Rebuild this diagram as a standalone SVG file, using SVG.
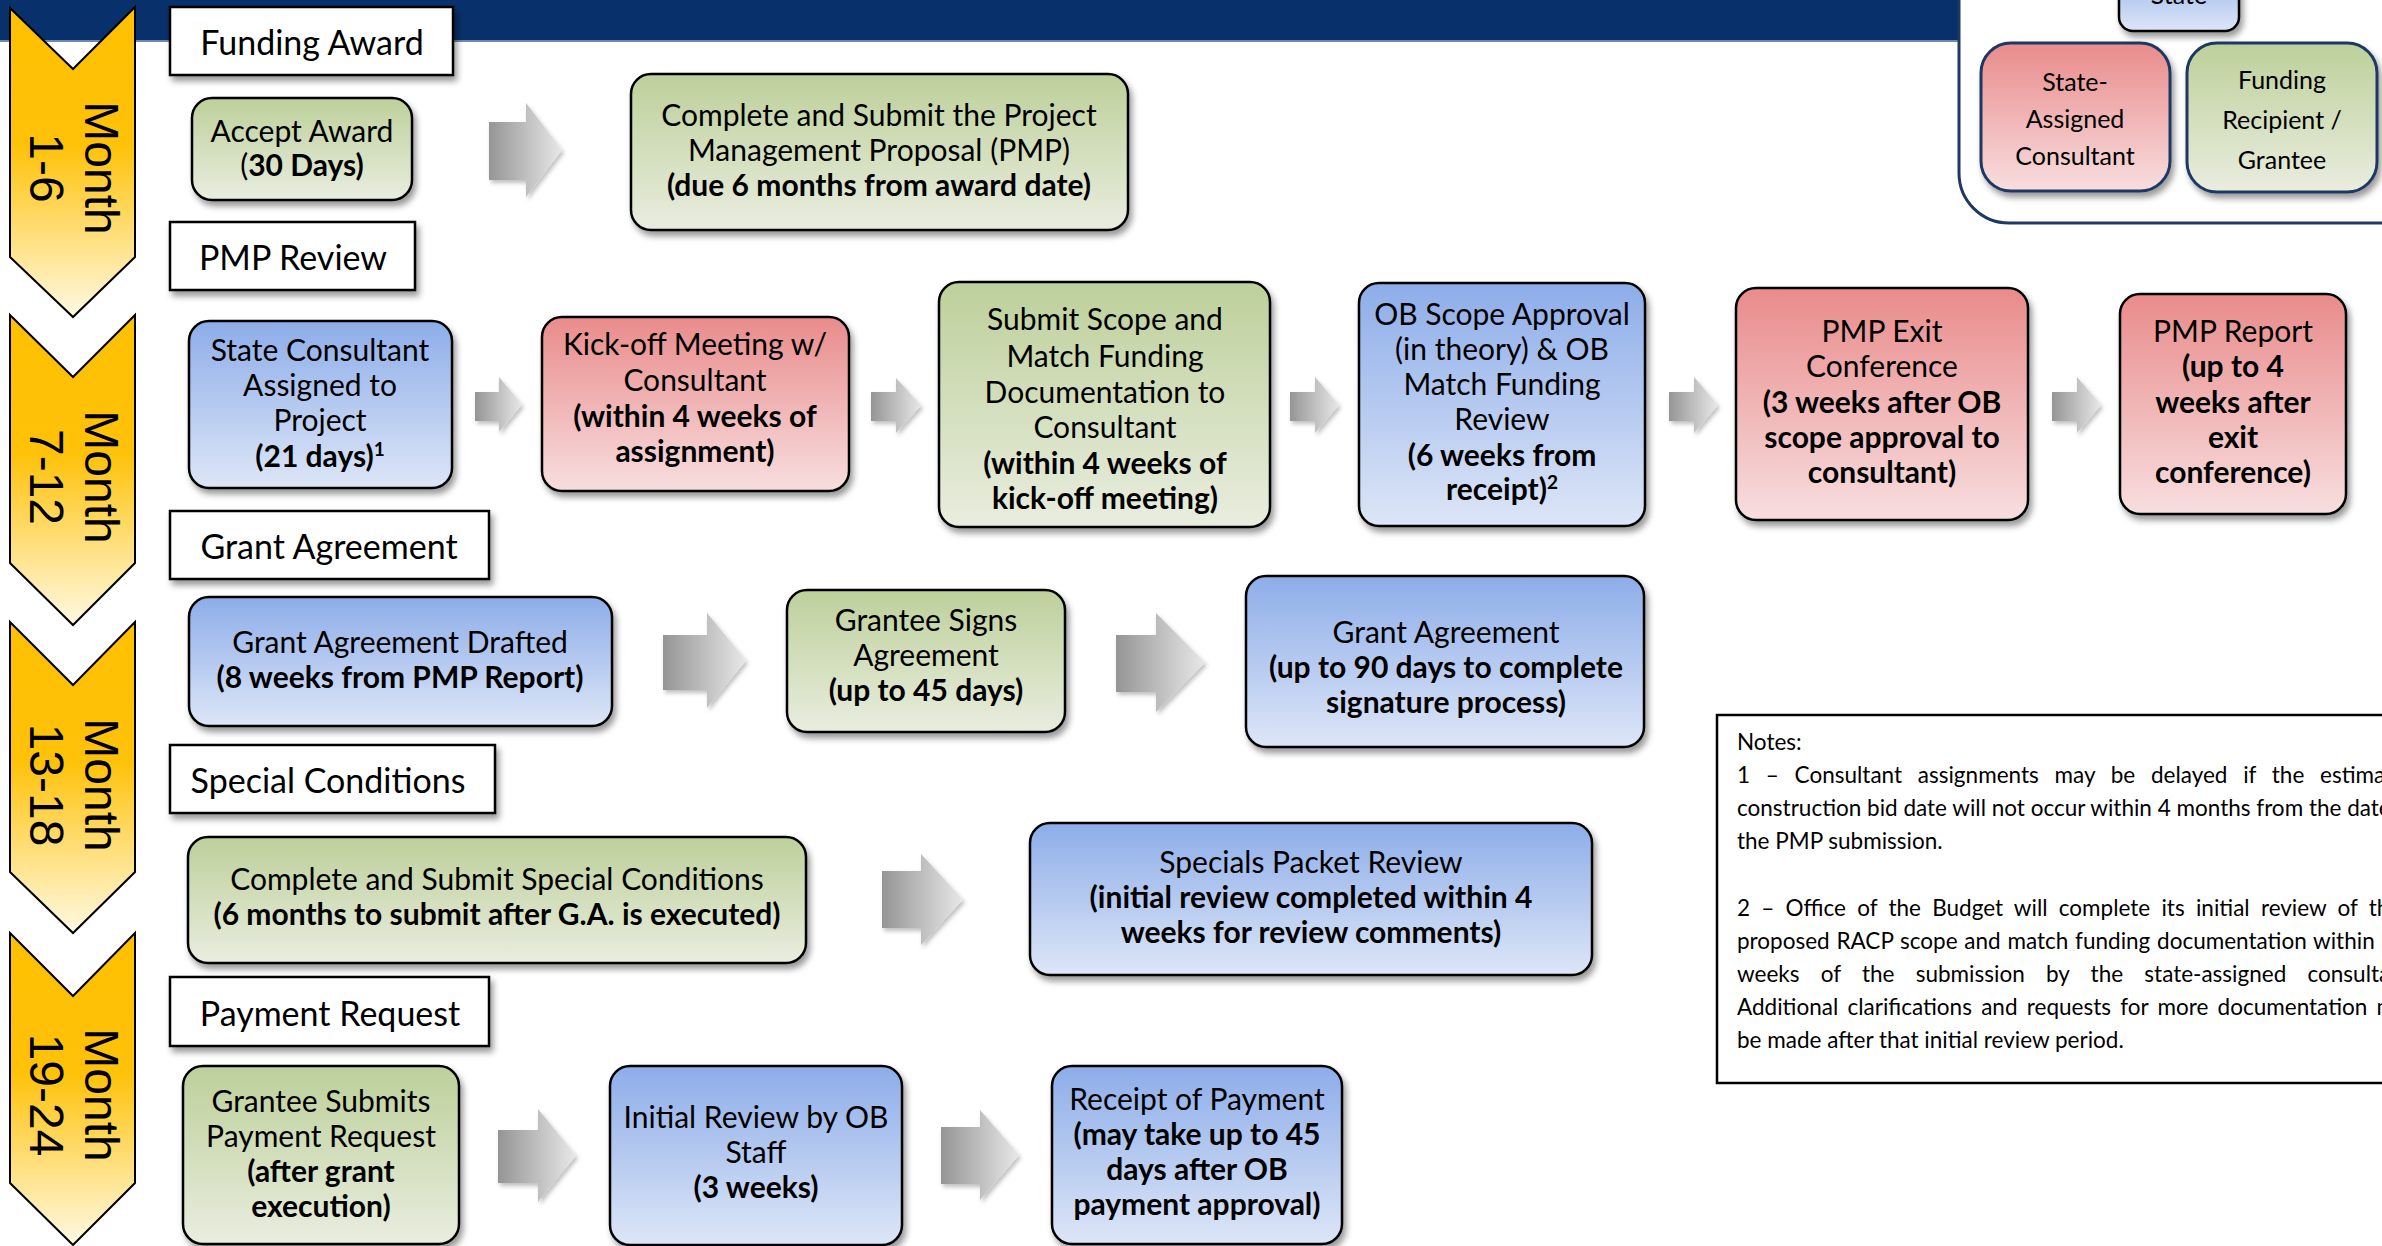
<svg xmlns="http://www.w3.org/2000/svg" width="2382" height="1246" viewBox="0 0 2382 1246">
<defs>
<linearGradient id="gGreen" x1="0" y1="0" x2="0" y2="1"><stop offset="0" stop-color="#BDD09A"/><stop offset="1" stop-color="#E9EDDF"/></linearGradient>
<linearGradient id="gBlue" x1="0" y1="0" x2="0" y2="1"><stop offset="0" stop-color="#8DADE9"/><stop offset="1" stop-color="#DDE6F7"/></linearGradient>
<linearGradient id="gRed" x1="0" y1="0" x2="0" y2="1"><stop offset="0" stop-color="#E98B8B"/><stop offset="1" stop-color="#F8DEDF"/></linearGradient>
<linearGradient id="gGold" x1="0" y1="0" x2="0" y2="1"><stop offset="0" stop-color="#FFC000"/><stop offset="0.45" stop-color="#FFC20A"/><stop offset="1" stop-color="#FFF9E3"/></linearGradient>
<linearGradient id="gArrow" x1="0" y1="0" x2="1" y2="0"><stop offset="0" stop-color="#959595"/><stop offset="1" stop-color="#E8E8E8"/></linearGradient>
<filter id="sh" x="-10%" y="-10%" width="130%" height="140%"><feDropShadow dx="3" dy="5" stdDeviation="3" flood-color="#000" flood-opacity="0.4"/></filter>
<filter id="shA" x="-10%" y="-10%" width="130%" height="140%"><feDropShadow dx="2" dy="3" stdDeviation="2" flood-color="#000" flood-opacity="0.25"/></filter>
</defs>
<style>
.t{font-family:Lato,'Liberation Sans',sans-serif;font-size:30px;fill:#000;text-anchor:middle}
.b{font-weight:bold}
.lbl{font-size:34px}
.leg{font-size:25px}
.note{font-family:Lato,'Liberation Sans',sans-serif;font-size:22.5px;fill:#000}
.mon{font-family:'Liberation Sans',Arial,sans-serif;font-size:48px;fill:#000;text-anchor:middle}
.box{stroke:#000;stroke-width:2.5;filter:url(#sh)}
.label{fill:#fff;stroke:#000;stroke-width:2.5;filter:url(#sh)}
.chev{fill:url(#gGold);stroke:#000;stroke-width:2}
.arr{fill:url(#gArrow);filter:url(#shA)}
.lbox{stroke:#1F3864;stroke-width:3;filter:url(#sh)}
</style>
<rect width="2382" height="1246" fill="#fff"/>
<rect x="0" y="0" width="1958" height="41" fill="#08306A"/>
<rect x="0" y="40" width="1958" height="2" fill="#6F89AD"/>

<g id="legend">
<rect x="1959" y="-60" width="480" height="283" rx="50" fill="#fff" stroke="#1F3864" stroke-width="3"/>
<rect x="2119" y="-40" width="120" height="71" rx="14" fill="url(#gBlue)" stroke="#000" stroke-width="2.5" filter="url(#sh)"/>
<text class="t leg" x="2179" y="4">State</text>
<rect x="1981" y="43" width="189" height="148" rx="30" fill="url(#gRed)" class="lbox"/>
<text class="t leg" x="2075" y="91">State-</text>
<text class="t leg" x="2075" y="128">Assigned</text>
<text class="t leg" x="2075" y="165">Consultant</text>
<rect x="2187" y="43" width="190" height="149" rx="30" fill="url(#gGreen)" class="lbox"/>
<text class="t leg" x="2282" y="89">Funding</text>
<text class="t leg" x="2282" y="129">Recipient /</text>
<text class="t leg" x="2282" y="169">Grantee</text>
</g>

<g id="chevron-1-6">
<path class="chev" d="M10,8 L73,69 L135,7 L135,257 L73,317 L10,257 Z"/>
<text class="mon" transform="translate(85,168) rotate(90)">Month</text>
<text class="mon" transform="translate(30,168) rotate(90)">1-6</text>
</g>
<g id="chevron-7-12">
<path class="chev" d="M10,315 L73,377 L135,315 L135,563 L73,625 L10,563 Z"/>
<text class="mon" transform="translate(85,477) rotate(90)">Month</text>
<text class="mon" transform="translate(30,477) rotate(90)">7-12</text>
</g>
<g id="chevron-13-18">
<path class="chev" d="M10,622 L73,685 L135,622 L135,872 L73,933 L10,872 Z"/>
<text class="mon" transform="translate(85,785) rotate(90)">Month</text>
<text class="mon" transform="translate(30,785) rotate(90)">13-18</text>
</g>
<g id="chevron-19-24">
<path class="chev" d="M10,933 L73,996 L135,933 L135,1183 L73,1245 L10,1183 Z"/>
<text class="mon" transform="translate(85,1095) rotate(90)">Month</text>
<text class="mon" transform="translate(30,1095) rotate(90)">19-24</text>
</g>

<g id="label-funding-award"><rect class="label" x="170" y="7" width="283" height="68"/><text class="t lbl" x="312" y="55">Funding Award</text></g>
<g id="label-pmp-review"><rect class="label" x="170" y="222" width="245" height="68"/><text class="t lbl" x="293" y="270">PMP Review</text></g>
<g id="label-grant-agreement"><rect class="label" x="170" y="511" width="319" height="68"/><text class="t lbl" x="329" y="559">Grant Agreement</text></g>
<g id="label-special-conditions"><rect class="label" x="170" y="745" width="325" height="68"/><text class="t lbl" x="328" y="793">Special Conditions</text></g>
<g id="label-payment-request"><rect class="label" x="170" y="977" width="319" height="69"/><text class="t lbl" x="330" y="1026">Payment Request</text></g>

<g id="connectors">
<path class="arr" d="M489,122 L526,122 L526,103 L562,150 L526,197 L526,180 L489,180 Z"/>
<path class="arr" d="M475,392 L499,392 L499,377 L522,404.5 L499,432 L499,421 L475,421 Z"/>
<path class="arr" d="M871,392 L896,392 L896,378 L921,405.5 L896,433 L896,421 L871,421 Z"/>
<path class="arr" d="M1290,392 L1315,392 L1315,377 L1339,405 L1315,433 L1315,421 L1290,421 Z"/>
<path class="arr" d="M1669,392 L1694,392 L1694,377 L1718,405 L1694,433 L1694,421 L1669,421 Z"/>
<path class="arr" d="M2052,392 L2077,392 L2077,377 L2101,405 L2077,433 L2077,421 L2052,421 Z"/>
<path class="arr" d="M663,635 L707,635 L707,613 L746,660.5 L707,708 L707,690 L663,690 Z"/>
<path class="arr" d="M1116,635 L1156,635 L1156,613 L1205,662.5 L1156,712 L1156,692 L1116,692 Z"/>
<path class="arr" d="M882,871 L921,871 L921,854 L963,899.5 L921,945 L921,928 L882,928 Z"/>
<path class="arr" d="M498,1130 L538,1130 L538,1109 L576,1155.5 L538,1202 L538,1183 L498,1183 Z"/>
<path class="arr" d="M941,1127 L980,1127 L980,1110 L1019,1155 L980,1200 L980,1184 L941,1184 Z"/>
</g>

<g id="accept-award">
<rect class="box" x="192" y="98" width="220" height="102" rx="20" fill="url(#gGreen)"/>
<text class="t" x="302" y="142">Accept Award</text>
<text class="t" x="302" y="176">(<tspan class="b">30 Days)</tspan></text>
</g>
<g id="submit-pmp">
<rect class="box" x="631" y="74" width="497" height="156" rx="20" fill="url(#gGreen)"/>
<text class="t" x="879" y="126">Complete and Submit the Project</text>
<text class="t" x="879" y="161">Management Proposal (PMP)</text>
<text class="t b" x="879" y="196">(due 6 months from award date)</text>
</g>
<g id="state-consultant">
<rect class="box" x="189" y="321" width="263" height="167" rx="20" fill="url(#gBlue)"/>
<text class="t" x="320" y="361">State Consultant</text>
<text class="t" x="320" y="396">Assigned to</text>
<text class="t" x="320" y="431">Project</text>
<text class="t b" x="320" y="467">(21 days)<tspan font-size="19" dy="-11">1</tspan></text>
</g>
<g id="kickoff">
<rect class="box" x="542" y="317" width="307" height="174" rx="20" fill="url(#gRed)"/>
<text class="t" x="695" y="355">Kick-off Meeting w/</text>
<text class="t" x="695" y="391">Consultant</text>
<text class="t b" x="695" y="427">(within 4 weeks of</text>
<text class="t b" x="695" y="462">assignment)</text>
</g>
<g id="submit-scope">
<rect class="box" x="939" y="282" width="331" height="245" rx="20" fill="url(#gGreen)"/>
<text class="t" x="1105" y="330">Submit Scope and</text>
<text class="t" x="1105" y="367">Match Funding</text>
<text class="t" x="1105" y="403">Documentation to</text>
<text class="t" x="1105" y="438">Consultant</text>
<text class="t b" x="1105" y="474">(within 4 weeks of</text>
<text class="t b" x="1105" y="509">kick-off meeting)</text>
</g>
<g id="ob-scope">
<rect class="box" x="1359" y="283" width="286" height="243" rx="20" fill="url(#gBlue)"/>
<text class="t" x="1502" y="325">OB Scope Approval</text>
<text class="t" x="1502" y="360">(in theory) &amp; OB</text>
<text class="t" x="1502" y="395">Match Funding</text>
<text class="t" x="1502" y="430">Review</text>
<text class="t b" x="1502" y="466">(6 weeks from</text>
<text class="t b" x="1502" y="500">receipt)<tspan font-size="19" dy="-11">2</tspan></text>
</g>
<g id="pmp-exit">
<rect class="box" x="1736" y="288" width="292" height="232" rx="20" fill="url(#gRed)"/>
<text class="t" x="1882" y="342">PMP Exit</text>
<text class="t" x="1882" y="377">Conference</text>
<text class="t b" x="1882" y="413">(3 weeks after OB</text>
<text class="t b" x="1882" y="448">scope approval to</text>
<text class="t b" x="1882" y="483">consultant)</text>
</g>
<g id="pmp-report">
<rect class="box" x="2120" y="294" width="226" height="220" rx="20" fill="url(#gRed)"/>
<text class="t" x="2233" y="342">PMP Report</text>
<text class="t b" x="2233" y="377">(up to 4</text>
<text class="t b" x="2233" y="413">weeks after</text>
<text class="t b" x="2233" y="448">exit</text>
<text class="t b" x="2233" y="483">conference)</text>
</g>
<g id="ga-drafted">
<rect class="box" x="189" y="597" width="423" height="129" rx="20" fill="url(#gBlue)"/>
<text class="t" x="400" y="653">Grant Agreement Drafted</text>
<text class="t b" x="400" y="688">(8 weeks from PMP Report)</text>
</g>
<g id="grantee-signs">
<rect class="box" x="787" y="590" width="278" height="142" rx="20" fill="url(#gGreen)"/>
<text class="t" x="926" y="631">Grantee Signs</text>
<text class="t" x="926" y="666">Agreement</text>
<text class="t b" x="926" y="701">(up to 45 days)</text>
</g>
<g id="grant-agreement">
<rect class="box" x="1246" y="576" width="398" height="171" rx="20" fill="url(#gBlue)"/>
<text class="t" x="1446" y="643">Grant Agreement</text>
<text class="t b" x="1446" y="678">(up to 90 days to complete</text>
<text class="t b" x="1446" y="713">signature process)</text>
</g>
<g id="special-conditions">
<rect class="box" x="188" y="837" width="618" height="126" rx="20" fill="url(#gGreen)"/>
<text class="t" x="497" y="890">Complete and Submit Special Conditions</text>
<text class="t b" x="497" y="925">(6 months to submit after G.A. is executed)</text>
</g>
<g id="specials-packet">
<rect class="box" x="1030" y="823" width="562" height="152" rx="20" fill="url(#gBlue)"/>
<text class="t" x="1311" y="873">Specials Packet Review</text>
<text class="t b" x="1311" y="908">(initial review completed within 4</text>
<text class="t b" x="1311" y="943">weeks for review comments)</text>
</g>
<g id="grantee-submits">
<rect class="box" x="183" y="1066" width="276" height="178" rx="20" fill="url(#gGreen)"/>
<text class="t" x="321" y="1112">Grantee Submits</text>
<text class="t" x="321" y="1147">Payment Request</text>
<text class="t b" x="321" y="1182">(after grant</text>
<text class="t b" x="321" y="1217">execution)</text>
</g>
<g id="initial-review">
<rect class="box" x="610" y="1066" width="292" height="179" rx="20" fill="url(#gBlue)"/>
<text class="t" x="756" y="1128">Initial Review by OB</text>
<text class="t" x="756" y="1163">Staff</text>
<text class="t b" x="756" y="1198">(3 weeks)</text>
</g>
<g id="receipt-payment">
<rect class="box" x="1052" y="1066" width="290" height="178" rx="20" fill="url(#gBlue)"/>
<text class="t" x="1197" y="1110">Receipt of Payment</text>
<text class="t b" x="1197" y="1145">(may take up to 45</text>
<text class="t b" x="1197" y="1180">days after OB</text>
<text class="t b" x="1197" y="1215">payment approval)</text>
</g>

<g id="notes">
<rect x="1717" y="715" width="740" height="368" fill="#fff" stroke="#000" stroke-width="2.5"/>
<text class="note" x="1737" y="750">Notes:</text>
<text class="note" x="1737" y="783" word-spacing="10">1 – Consultant assignments may be delayed if the estimated</text>
<text class="note" x="1737" y="816">construction bid date will not occur within 4 months from the date</text>
<text class="note" x="1737" y="849">the PMP submission.</text>
<text class="note" x="1737" y="916" word-spacing="5.5">2 – Office of the Budget will complete its initial review of the</text>
<text class="note" x="1737" y="949" word-spacing="1">proposed RACP scope and match funding documentation within</text>
<text class="note" x="1737" y="982" word-spacing="15.5">weeks of the submission by the state-assigned consultant.</text>
<text class="note" x="1737" y="1015" word-spacing="3.5">Additional clarifications and requests for more documentation may</text>
<text class="note" x="1737" y="1048">be made after that initial review period.</text>
</g>
</svg>
